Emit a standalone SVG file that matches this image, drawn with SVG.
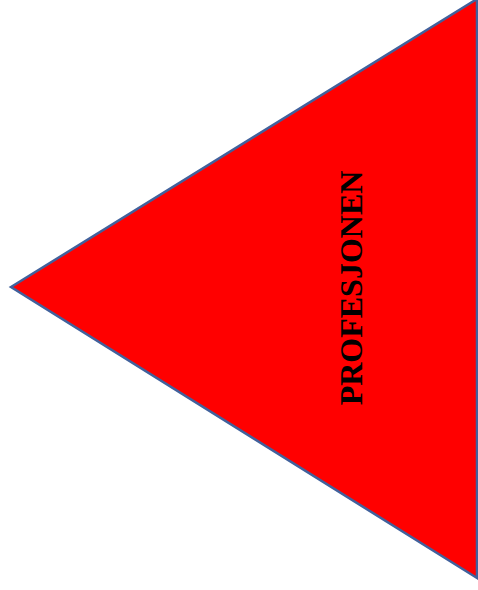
<svg xmlns="http://www.w3.org/2000/svg" width="478" height="590" viewBox="0 0 478 590">
<style>
.tri{fill:#ff0000;stroke:#41619c;stroke-width:2.5}
.lbl{font-family:"Liberation Serif","Times New Roman",serif;font-weight:bold;font-size:32px;fill:#000}
</style>
<rect width="478" height="590" fill="#fff"/>
<g id="triangle">
<polygon class="tri" points="11,287 477,-1 477,578"/>
<text class="lbl" transform="translate(362,288) rotate(-90)" text-anchor="middle">PROFESJONEN</text>
</g>
</svg>
